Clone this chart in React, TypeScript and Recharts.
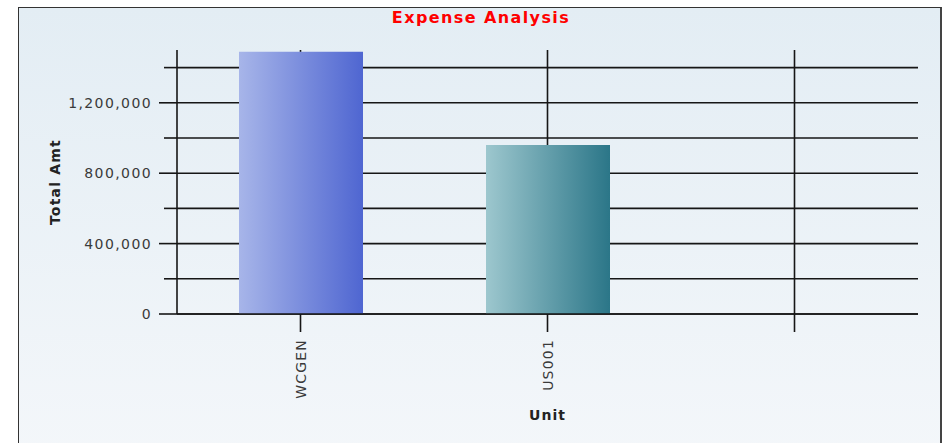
import { BarChart, Bar, XAxis, YAxis, CartesianGrid, Cell } from 'recharts';

const units = ['WCGEN', 'US001', ''];
const totalAmt = [1490000, 960000, null];
const yTicks = [0, 200000, 400000, 600000, 800000, 1000000, 1200000, 1400000];
const labeledTicks = [0, 400000, 800000, 1200000];
const barGradients = [
  ['#a7b5e9', '#4f66d1'],
  ['#9dc7ce', '#2b7688'],
];

const data = units.map((unit, i) => ({ unit, total: totalAmt[i] }));

const FONT = '"DejaVu Sans", Verdana, sans-serif';
const LINE = '#161616';

const YTick = ({ x, y, payload }: any) => {
  const major = labeledTicks.includes(payload.value);
  return (
    <g>
      <line x1={x + (major ? 7 : 12)} x2={x + 25} y1={y} y2={y} stroke={LINE} strokeWidth={1.6} />
      {major && (
        <text x={x} y={y} dy="0.36em" textAnchor="end" fontSize={14} letterSpacing={1.4} fill="#3a3a3a" fontFamily={FONT}>
          {payload.value.toLocaleString('en-US')}
        </text>
      )}
    </g>
  );
};

const XTick = ({ x, y, payload }: any) => (
  <text
    x={x}
    y={y}
    dy="0.36em"
    textAnchor="end"
    transform={`rotate(-90, ${x}, ${y})`}
    fontSize={14}
    letterSpacing={1.2}
    fill="#3a3a3a"
    fontFamily={FONT}
  >
    {payload.value}
  </text>
);

export default function App() {
  return (
    <div style={{ position: 'absolute', left: 0, top: 0, width: 942, height: 443, overflow: 'hidden', background: '#fff' }}>
      <div
        style={{
          position: 'absolute',
          left: 18,
          top: 7,
          width: 921,
          height: 460,
          borderLeft: '1px solid #333',
          borderTop: '1px solid #333',
          borderRight: '2px solid #444',
          background: 'linear-gradient(#e3edf4, #f4f7fa)',
        }}
      />
      <div
        style={{
          position: 'absolute',
          left: 381,
          top: 8,
          width: 200,
          lineHeight: '20px',
          textAlign: 'center',
          color: '#ff0000',
          fontFamily: FONT,
          fontWeight: 'bold',
          fontSize: 16,
          letterSpacing: 1.4,
        }}
      >
        Expense Analysis
      </div>
      <div style={{ position: 'absolute', left: 0, top: 0 }}>
        <BarChart width={942} height={443} data={data} margin={{ top: 50, right: 24, bottom: 0, left: 0 }}>
          <defs>
            {barGradients.map(([from, to], i) => (
              <linearGradient key={i} id={`barGrad${i}`} x1="0" y1="0" x2="1" y2="0">
                <stop offset="0%" stopColor={from} />
                <stop offset="100%" stopColor={to} />
              </linearGradient>
            ))}
          </defs>
          <CartesianGrid stroke={LINE} strokeWidth={1.6} syncWithTicks />
          <XAxis
            dataKey="unit"
            height={129}
            interval={0}
            tickSize={18}
            tickMargin={7}
            axisLine={{ stroke: LINE, strokeWidth: 1.6 }}
            tickLine={{ stroke: LINE, strokeWidth: 1.6 }}
            tick={<XTick />}
            label={{
              value: 'Unit',
              position: 'insideBottom',
              offset: 23,
              style: { fontFamily: FONT, fontWeight: 'bold', fontSize: 14, letterSpacing: 1, fill: '#222' },
            }}
          />
          <YAxis
            width={177}
            domain={[0, 1500000]}
            ticks={yTicks}
            interval={0}
            tickSize={18}
            tickMargin={7}
            tickLine={false}
            axisLine={{ stroke: LINE, strokeWidth: 1.6 }}
            tick={<YTick />}
            label={{
              value: 'Total Amt',
              angle: -90,
              position: 'insideLeft',
              offset: 55,
              style: { textAnchor: 'middle', fontFamily: FONT, fontWeight: 'bold', fontSize: 14, letterSpacing: 1.2, fill: '#222' },
            }}
          />
          <Bar dataKey="total" barSize={124} isAnimationActive={false}>
            {data.map((_, i) => (
              <Cell key={i} fill={`url(#barGrad${i % barGradients.length})`} />
            ))}
          </Bar>
        </BarChart>
      </div>
    </div>
  );
}
